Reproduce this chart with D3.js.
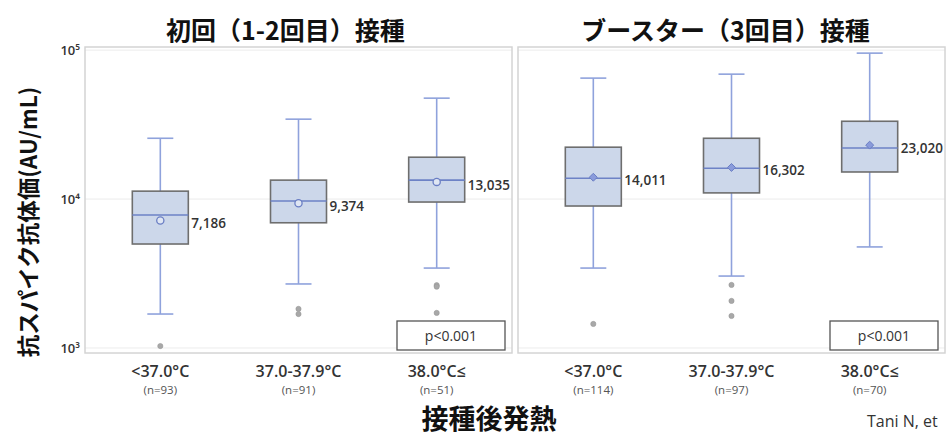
<!DOCTYPE html>
<html>
<head>
<meta charset="utf-8">
<script src="https://cdn.jsdelivr.net/npm/d3@7"></script>
<style>
  html, body { margin: 0; padding: 0; background: #fff; }
  svg { display: block; }
</style>
</head>
<body>
<svg id="chart" width="948" height="438"></svg>
<script>
// Fever groups and panel titles
const groups = ["<37.0°C", "37.0-37.9°C", "38.0°C≤"];
const panelTitles = ["初回（1-2回目）接種", "ブースター（3回目）接種"];
const yTicks = [1000, 10000, 100000];
const yTickLabels = ["10³", "10⁴", "10⁵"];

// Primary series (doses 1-2)
const primaryN = [93, 91, 51];
const primaryHigh = [25600, 34400, 47600];
const primaryQ3 = [11300, 13400, 19100];
const primaryMedian = [7810, 9700, 13400];
const primaryMean = [7186, 9374, 13035];
const primaryQ1 = [4990, 6930, 9550];
const primaryLow = [1690, 2690, 3440];
const primaryOutliers = [[1030], [1830, 1690], [2640, 2580, 1720]];
const primaryP = "p<0.001";

// Booster series (dose 3)
const boosterN = [114, 97, 70];
const boosterHigh = [64900, 69000, 95500];
const boosterQ3 = [22300, 25600, 33300];
const boosterMedian = [13800, 16100, 22000];
const boosterMean = [14011, 16302, 23020];
const boosterQ1 = [8980, 11000, 15200];
const boosterLow = [3440, 3040, 4770];
const boosterOutliers = [[1450], [2650, 2070, 1640], []];
const boosterP = "p<0.001";

const panels = [
  { title: panelTitles[0], x0: 85, x1: 512, titleShift: -13, marker: "circle", p: primaryP,
    rows: groups.map((g, i) => ({ g, n: primaryN[i], high: primaryHigh[i], q3: primaryQ3[i],
      med: primaryMedian[i], mean: primaryMean[i], q1: primaryQ1[i], low: primaryLow[i],
      out: primaryOutliers[i] })) },
  { title: panelTitles[1], x0: 518, x1: 945, titleShift: -6, marker: "diamond", p: boosterP,
    rows: groups.map((g, i) => ({ g, n: boosterN[i], high: boosterHigh[i], q3: boosterQ3[i],
      med: boosterMedian[i], mean: boosterMean[i], q1: boosterQ1[i], low: boosterLow[i],
      out: boosterOutliers[i] })) }
];

const svg = d3.select("#chart");
const plotTop = 47, plotBottom = 353;
const y = d3.scaleLog().domain([925, 105000]).range([plotBottom, plotTop]);

const boxW = 56, capW = 26;
const fmt = d3.format(",");
const latin = "'Open Sans', 'Noto Sans', sans-serif";
const cjk = "'Noto Sans CJK JP', 'Noto Sans', sans-serif";

panels.forEach(p => {
  const x = d3.scalePoint().domain(groups).range([p.x0, p.x1]).padding(0.545);
  const g = svg.append("g");

  // light horizontal gridlines
  g.selectAll("line.grid").data(yTicks).join("line")
    .attr("x1", p.x0).attr("x2", p.x1)
    .attr("y1", d => y(d)).attr("y2", d => y(d))
    .attr("stroke", "#ececec").attr("stroke-width", 1);

  // panel frame
  g.append("rect")
    .attr("x", p.x0).attr("y", plotTop).attr("width", p.x1 - p.x0).attr("height", plotBottom - plotTop)
    .attr("fill", "none").attr("stroke", "#d4d4d4").attr("stroke-width", 1.5);

  // title
  svg.append("text")
    .attr("x", (p.x0 + p.x1) / 2 + p.titleShift).attr("y", 40).attr("text-anchor", "middle")
    .attr("font-family", cjk).attr("font-weight", 700).attr("font-size", 25)
    .attr("fill", "#111").text(p.title);

  const box = g.selectAll("g.box").data(p.rows).join("g").attr("class", "box");

  // whiskers
  box.append("line")
    .attr("x1", d => x(d.g)).attr("x2", d => x(d.g))
    .attr("y1", d => y(d.high)).attr("y2", d => y(d.q3))
    .attr("stroke", "#8fa2dc").attr("stroke-width", 1.6);
  box.append("line")
    .attr("x1", d => x(d.g)).attr("x2", d => x(d.g))
    .attr("y1", d => y(d.q1)).attr("y2", d => y(d.low))
    .attr("stroke", "#8fa2dc").attr("stroke-width", 1.6);
  ["high", "low"].forEach(k => {
    box.append("line")
      .attr("x1", d => x(d.g) - capW / 2).attr("x2", d => x(d.g) + capW / 2)
      .attr("y1", d => y(d[k])).attr("y2", d => y(d[k]))
      .attr("stroke", "#8fa2dc").attr("stroke-width", 1.6);
  });

  // box
  box.append("rect")
    .attr("x", d => x(d.g) - boxW / 2).attr("width", boxW)
    .attr("y", d => y(d.q3)).attr("height", d => y(d.q1) - y(d.q3))
    .attr("fill", "#ccd7ea").attr("stroke", "#6e6e6e").attr("stroke-width", 1.6);

  // median
  box.append("line")
    .attr("x1", d => x(d.g) - boxW / 2).attr("x2", d => x(d.g) + boxW / 2)
    .attr("y1", d => y(d.med)).attr("y2", d => y(d.med))
    .attr("stroke", "#6d82c6").attr("stroke-width", 1.6);

  // mean marker
  if (p.marker === "circle") {
    box.append("circle")
      .attr("cx", d => x(d.g)).attr("cy", d => y(d.mean)).attr("r", 3.6)
      .attr("fill", "#dfe6f3").attr("stroke", "#6a7ec4").attr("stroke-width", 1.3);
  } else {
    box.append("path")
      .attr("d", d3.symbol(d3.symbolDiamond2, 40))
      .attr("transform", d => `translate(${x(d.g)},${y(d.mean)})`)
      .attr("fill", "#8a9bdb").attr("stroke", "#6a7ec4").attr("stroke-width", 1);
  }

  // mean value label
  box.append("text")
    .attr("x", d => x(d.g) + boxW / 2 + 3).attr("y", d => y(d.mean) + 3)
    .attr("dy", "0.35em")
    .attr("font-family", latin).attr("font-weight", 600).attr("font-size", 13.5)
    .attr("fill", "#333").text(d => fmt(d.mean));

  // outliers
  box.each(function(d) {
    d3.select(this).selectAll("circle.out").data(d.out).join("circle")
      .attr("cx", x(d.g)).attr("cy", v => y(v)).attr("r", 2.6)
      .attr("fill", "#a8a8a8").attr("stroke", "#999").attr("stroke-width", 0.6);
  });

  // group labels
  svg.append("g").selectAll("text").data(p.rows).join("text")
    .attr("x", d => x(d.g)).attr("y", 377).attr("text-anchor", "middle")
    .attr("font-family", latin).attr("font-weight", 600).attr("font-size", 16)
    .attr("fill", "#333").text(d => d.g);
  svg.append("g").selectAll("text").data(p.rows).join("text")
    .attr("x", d => x(d.g)).attr("y", 394).attr("text-anchor", "middle")
    .attr("font-family", latin).attr("font-size", 11.5)
    .attr("fill", "#555").text(d => `(n=${d.n})`);

  // p-value box
  const pb = svg.append("g").attr("transform", `translate(${p.x1 - 115},321)`);
  pb.append("rect").attr("width", 108).attr("height", 29)
    .attr("fill", "#fff").attr("stroke", "#555").attr("stroke-width", 1.3);
  pb.append("text").attr("x", 54).attr("y", 15).attr("dy", "0.35em")
    .attr("text-anchor", "middle").attr("font-family", latin).attr("font-size", 14)
    .attr("fill", "#333").text(p.p);
});

// y tick labels
svg.append("g").selectAll("text").data(yTicks).join("text")
  .attr("x", 80).attr("y", d => y(d)).attr("dy", "0.35em").attr("text-anchor", "end")
  .attr("font-family", latin).attr("font-weight", 600).attr("font-size", 13)
  .attr("fill", "#333").text((d, i) => yTickLabels[i]);

// y axis title
svg.append("text")
  .attr("transform", "translate(29,222) rotate(-90)")
  .attr("text-anchor", "middle").attr("dy", "0.35em")
  .attr("font-family", cjk).attr("font-weight", 700).attr("font-size", 22.5)
  .attr("fill", "#111").text("抗スパイク抗体価(AU/mL)");

// x axis title
svg.append("text")
  .attr("x", 489).attr("y", 429).attr("text-anchor", "middle")
  .attr("font-family", cjk).attr("font-weight", 700).attr("font-size", 27)
  .attr("fill", "#111").text("接種後発熱");

// source note
svg.append("text")
  .attr("x", 867).attr("y", 427)
  .attr("font-family", latin).attr("font-size", 16)
  .attr("fill", "#333").text("Tani N, et");
</script>
</body>
</html>
